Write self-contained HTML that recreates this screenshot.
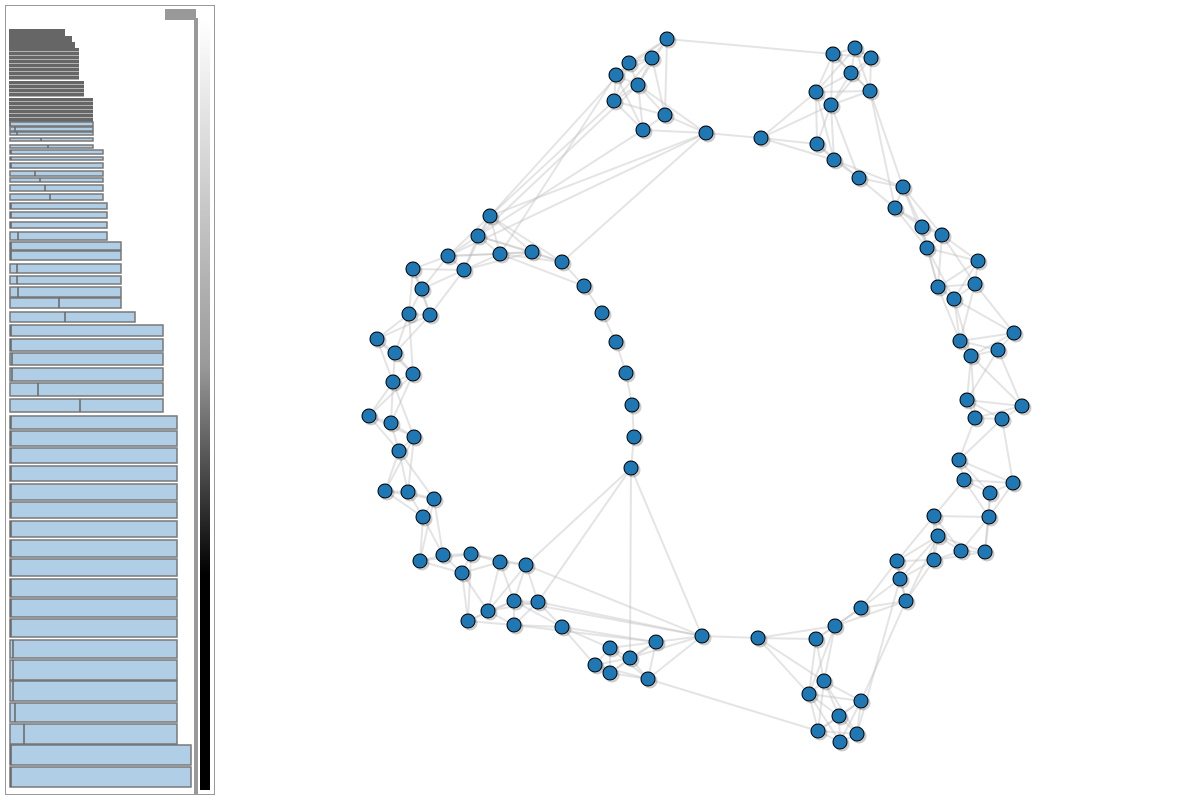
<!DOCTYPE html>
<html><head><meta charset="utf-8"><style>
body{margin:0;background:#fff;width:1200px;height:800px;overflow:hidden;font-family:"Liberation Sans",sans-serif}
svg{position:absolute;left:0;top:0}
</style></head><body>
<svg id="s" width="1200" height="800">
<defs><linearGradient id="cg" x1="0" y1="0" x2="0" y2="1">
<stop offset="0" stop-color="#fff"/><stop offset="0.45" stop-color="#999"/><stop offset="0.72" stop-color="#000"/><stop offset="1" stop-color="#000"/></linearGradient></defs>
<rect x="5.5" y="5.5" width="209" height="789" fill="#fff" stroke="#999"/>
<rect x="200" y="20" width="10" height="770" fill="url(#cg)"/>
<rect x="194" y="18" width="4" height="777" fill="#999"/>
<rect x="165" y="9" width="31" height="11" fill="#999"/>
<g id="bars"></g><g id="edges"></g><g id="nodes"></g>
</svg>
<script>
const NS="http://www.w3.org/2000/svg";
const barTop=[122,127,132,138,145,150,157,163,171,178,185,194,203,212,222,232,242,251,264,276,287,298,312,325,339,353,368,383,399,416,431,448,466,484,502,521,540,559,579,599,619,640,660,681,703,724,745,767];
const barBottom=[126,131,135,141,148,154,160,168,176,182,191,200,209,218,228,240,250,260,273,284,297,308,322,336,351,365,381,396,412,429,446,463,481,500,518,537,557,576,597,617,637,658,680,701,722,744,765,787];
const barRight=[93,93,93,93,93,103,103,103,103,103,103,103,107,107,107,107,121,121,121,121,121,121,135,163,163,163,163,163,163,177,177,177,177,177,177,177,177,177,177,177,177,177,177,177,177,177,191,191];
const barSplit=[10,15,17,41,48,11,11,11,35,40,45,50,11,11,11,18,11,11,17,17,18,59,65,11,11,12,12,38,80,11,11,11,11,11,11,11,11,11,11,11,11,13,13,13,15,24,11,11];
const darkTop=[29,36,42,48,52,56,60,64,68,72,76,81,85,89,93,98,102,106,110,114,118];
const darkRight=[65,72,75,79,79,79,79,79,79,79,79,84,84,84,84,93,93,93,93,93,93];
const bg=document.getElementById('bars');
darkTop.forEach((t,i)=>{const r=document.createElementNS(NS,'rect');
r.setAttribute('x',9);r.setAttribute('y',t);r.setAttribute('width',darkRight[i]-9);r.setAttribute('height',i<3?7:3.5);r.setAttribute('fill','#666');


bg.appendChild(r);});
barTop.forEach((t,i)=>{const r=document.createElementNS(NS,'rect');
r.setAttribute('x',10);r.setAttribute('y',t);r.setAttribute('width',barRight[i]-10);r.setAttribute('height',barBottom[i]-t);
r.setAttribute('fill','#b0cfe6');r.setAttribute('stroke','#777');r.setAttribute('stroke-width','1.5');


bg.appendChild(r);
const l=document.createElementNS(NS,'line');l.setAttribute('x1',barSplit[i]);l.setAttribute('x2',barSplit[i]);l.setAttribute('y1',t);l.setAttribute('y2',barBottom[i]);l.setAttribute('stroke','#666');l.setAttribute('stroke-width','1.5');


bg.appendChild(l);});
const nodeX=[667,652,629,616,638,614,665,643,706,761,817,833,855,871,851,816,831,870,834,859,903,895,922,942,927,978,975,938,954,1014,960,998,971,1022,967,975,1002,959,964,1013,990,989,934,938,961,985,934,897,900,906,861,835,816,758,702,824,809,861,839,818,857,840,656,610,630,595,610,648,562,538,514,514,488,468,526,500,471,462,443,420,423,434,408,385,399,414,391,369,413,393,395,377,430,409,422,413,464,448,500,478,490,532,562,584,602,616,626,632,634,631];
const nodeY=[39,58,63,75,85,101,115,130,133,138,144,54,48,58,73,92,105,91,160,178,187,208,227,235,248,261,284,287,299,333,341,350,356,406,400,418,419,460,480,483,493,517,516,536,551,552,560,561,579,601,608,626,639,638,636,681,694,701,716,731,734,742,642,648,658,665,673,679,627,602,601,625,611,621,565,562,554,573,555,561,517,499,492,491,451,437,423,416,374,382,353,339,315,314,289,269,270,256,254,236,216,252,262,286,313,342,373,405,437,468];
const longEdges=[[5,100],[8,100],[8,102],[7,99],[8,97],[3,98],[0,11],[109,74],[109,69],[109,54],[109,64],[67,59],[74,54],[70,54],[17,20],[17,21],[49,57],[48,60],[8,9],[9,10],[10,18],[18,19],[19,21],[52,53],[53,54],[62,54],[52,51],[52,55],[2,100],[6,8],[101,102],[102,103],[103,104],[104,105],[105,106],[106,107],[107,108],[108,109],[4,99],[71,62],[69,54],[68,62],[7,8]];
const eg=document.getElementById('edges');const seen=new Set();
function edge(a,b){const k=Math.min(a,b)+'-'+Math.max(a,b);if(seen.has(k))return;seen.add(k);
const l=document.createElementNS(NS,'line');l.setAttribute('x1',nodeX[a]);l.setAttribute('y1',nodeY[a]);l.setAttribute('x2',nodeX[b]);l.setAttribute('y2',nodeY[b]);
l.setAttribute('stroke','#bbb');l.setAttribute('stroke-opacity','0.4');l.setAttribute('stroke-width','2');


eg.appendChild(l);}
longEdges.forEach(e=>edge(e[0],e[1]));
nodeX.forEach((x,i)=>{const d=nodeX.map((x2,j)=>[Math.hypot(x2-x,nodeY[j]-nodeY[i]),j]).filter(p=>p[1]!==i&&p[0]<90&&!(p[1]>=101&&i>=101)).sort((a,b)=>a[0]-b[0]).slice(0,5);d.forEach(p=>edge(i,p[1]));});
const ng=document.getElementById('nodes');
nodeX.forEach((x,i)=>{const sh=document.createElementNS(NS,'circle');sh.setAttribute('cx',x+2);sh.setAttribute('cy',nodeY[i]+2);sh.setAttribute('r',7.5);sh.setAttribute('fill','#000');sh.setAttribute('fill-opacity','0.2');


ng.appendChild(sh);
const c=document.createElementNS(NS,'circle');c.setAttribute('cx',x);c.setAttribute('cy',nodeY[i]);c.setAttribute('r',7);c.setAttribute('fill','#1f77b4');c.setAttribute('stroke','#000');c.setAttribute('stroke-width','1');


ng.appendChild(c);});
</script>
</body></html>
